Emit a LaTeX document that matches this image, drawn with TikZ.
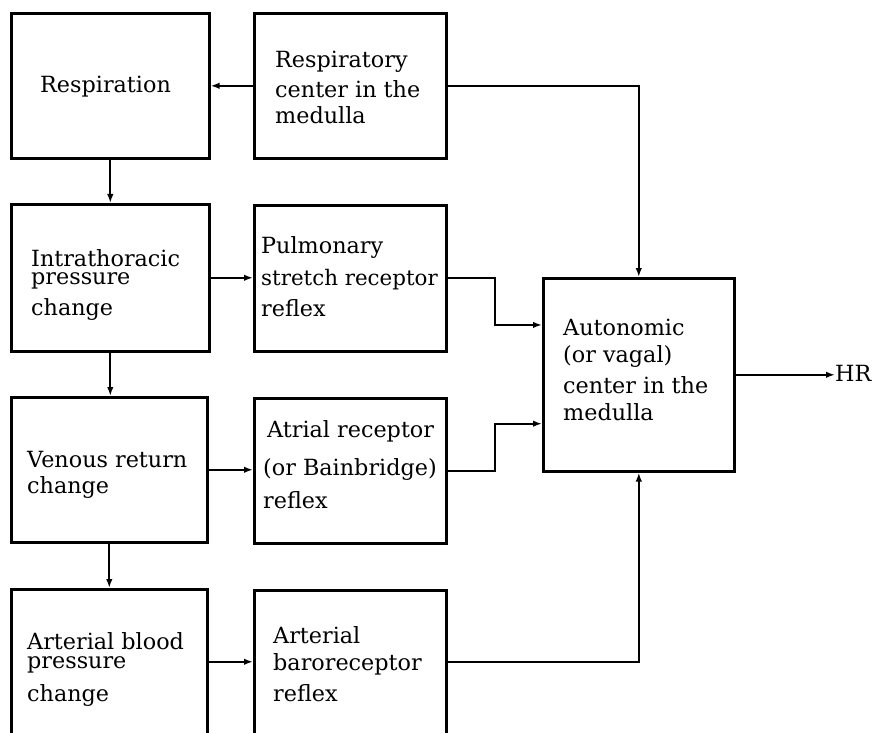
\documentclass[tikz,border=0pt]{standalone}
\usepackage{fontspec}
\setmainfont{DejaVu Serif}
\usetikzlibrary{calc,arrows.meta}

\tikzset{
  blk/.style={draw, line width=2.6pt, anchor=north west, inner sep=0pt,
              minimum width=#1},
  blk/.default=198pt,
  lbl/.style={anchor=north west, inner sep=0pt, align=left,
              font=\fontsize{22.3}{28}\selectfont},
  link/.style={line width=2.2pt, -{Latex[length=9pt,width=6.5pt]}},
}
\newcommand{\fl}{\rule{0pt}{20pt}}

\begin{document}
\begin{tikzpicture}[x=1pt,y=-1pt]
  \useasboundingbox (0,0) rectangle (876,733);
  \clip (0,0) rectangle (876,733);

  % boxes (top-left corner, width, height)
  \node[blk=198pt, minimum height=145pt] (resp)  at (10,12)  {};
  \node[blk=192pt, minimum height=145pt] (rcm)   at (253,12) {};
  \node[blk=198pt, minimum height=147pt] (intra) at (10,203) {};
  \node[blk=192pt, minimum height=146pt] (pulm)  at (253,204) {};
  \node[blk=196pt, minimum height=145pt] (ven)   at (10,396) {};
  \node[blk=192pt, minimum height=145pt] (atr)   at (253,397) {};
  \node[blk=196pt, minimum height=145pt] (abp)   at (10,588) {};
  \node[blk=192pt, minimum height=144pt] (baro)  at (253,589) {};
  \node[blk=191pt, minimum height=193pt] (auto)  at (542,277) {};

  % texts (first baseline 20pt below the given point)
  \node[lbl] (t-resp)  at (40,72)   {\fl Respiration};
  \node[lbl] (t-rcm)   at (275,47)  {\fl Respiratory\\[2pt]center in the\\[-2pt]medulla};
  \node[lbl] (t-intra) at (31,246)  {\fl Intrathoracic\\[-10pt]pressure\\[3pt]change};
  \node[lbl] (t-pulm)  at (261,233) {\fl Pulmonary\\[4pt]{\fontsize{21.4}{28}\selectfont stretch receptor}\\[3pt]reflex};
  \node[lbl] (t-ven)   at (27,447)  {\fl Venous return\\[-2pt]change};
  \node[lbl] (t-atr)   at (263,417) {\fl\hspace{4pt}Atrial receptor\\[10pt](or Bainbridge)\\[5pt]reflex};
  \node[lbl] (t-abp)   at (27,629)  {\fl Arterial blood\\[-9pt]pressure\\[5pt]change};
  \node[lbl] (t-baro)  at (273,623) {\fl Arterial\\[-1pt]baroreceptor\\[3pt]reflex};
  \node[lbl] (t-auto)  at (563,315) {\fl Autonomic\\[-1pt](or vagal)\\[3pt]center in the\\[-1pt]medulla};
  \node[lbl, anchor=west] (hr) at (835,373) {HR};

  % left column: main chain
  \draw[link] (rcm.west) -- (rcm.west -| resp.east);
  \draw[link] (resp.south) -- (resp.south |- intra.north);
  \draw[link] (intra.south) -- (intra.south |- ven.north);
  \draw[link] (ven.south) -- (ven.south |- abp.north);
  \draw[link] (intra.east) -- (intra.east -| pulm.west);
  \draw[link] (ven.east) -- (ven.east -| atr.west);
  \draw[link] (abp.east) -- (abp.east -| baro.west);

  % inputs to the autonomic center
  \coordinate (jx) at ($(pulm.east)!0.5!(auto.west)$);
  \coordinate (in1) at ($(auto.north west)!0.245!(auto.south west)$);
  \coordinate (in2) at ($(auto.north west)!0.75!(auto.south west)$);
  \draw[link] (rcm.east) -| (auto.north);
  \draw[link] (pulm.east) -| (jx |- in1) -- (in1);
  \draw[link] (atr.east) -| (jx |- in2) -- (in2);
  \draw[link] (baro.east) -| (auto.south);

  % output
  \draw[link] (auto.east) -- (auto.east -| hr.west);
\end{tikzpicture}
\end{document}
